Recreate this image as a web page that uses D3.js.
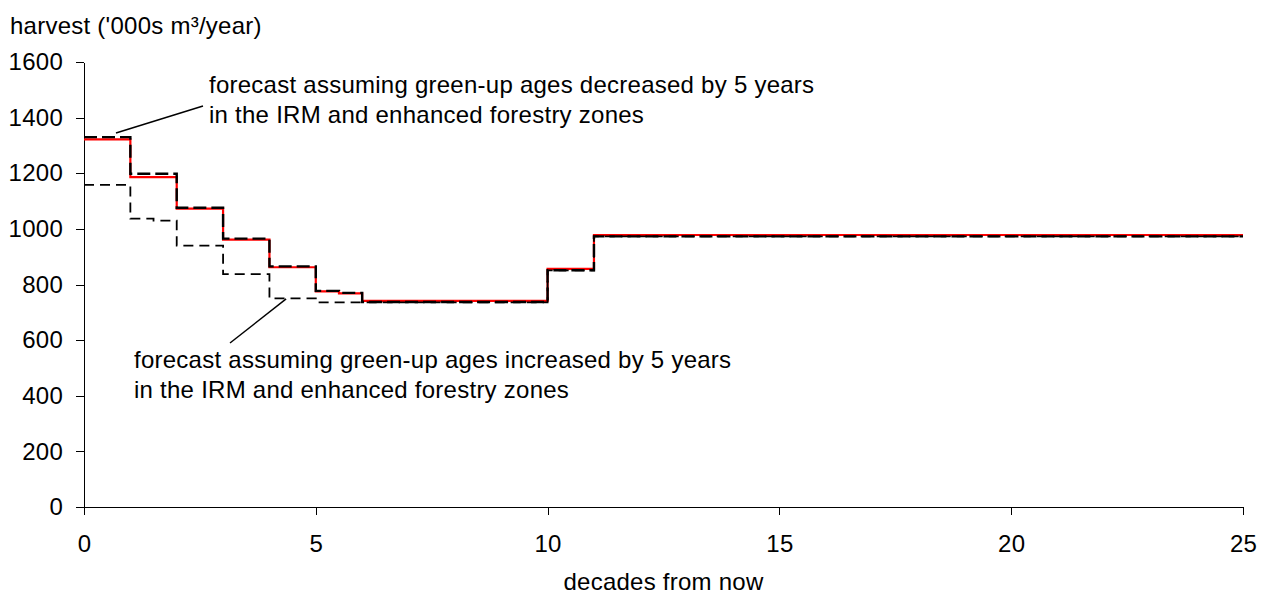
<!DOCTYPE html>
<html>
<head>
<meta charset="utf-8">
<script src="https://cdn.jsdelivr.net/npm/d3@7"></script>
<style>
  html, body { margin: 0; padding: 0; background: #fff; }
  svg { display: block; font-family: "Liberation Sans", Arial, sans-serif; }
</style>
</head>
<body>
<svg id="chart" width="1264" height="596"></svg>
<script>
// Harvest forecast by period (decades from now), stepped per period start
const baseStarts = [0, 1, 2, 3, 4, 5, 5.5, 6, 10, 11];
const baseValues = [1322, 1186, 1073, 961, 862, 775, 768, 741, 856, 978];

const decreasedStarts = [0, 1, 2, 3, 4, 5, 5.5, 6, 10, 11];
const decreasedValues = [1330, 1198, 1076, 965, 865, 777, 770, 737, 851, 973];

const increasedStarts = [0, 1, 1.5, 2, 3, 4, 5, 10, 11];
const increasedValues = [1158, 1037, 1030, 940, 837, 750, 736, 851, 973];

const horizonEnd = 25;

const xTicks = [0, 5, 10, 15, 20, 25];
const yTicks = [0, 200, 400, 600, 800, 1000, 1200, 1400, 1600];

const yTitle = "harvest ('000s m³/year)";
const xTitle = "decades from now";
const noteDecreased = ["forecast assuming green-up ages decreased by 5 years",
                       "in the IRM and enhanced forestry zones"];
const noteIncreased = ["forecast assuming green-up ages increased by 5 years",
                       "in the IRM and enhanced forestry zones"];

const svg = d3.select("#chart");
const fontSize = 24;
const spacing = "0.25px";

const x = d3.scaleLinear().domain([0, 25]).range([84, 1243]);
const y = d3.scaleLinear().domain([0, 1600]).range([507, 62]);

// axes
const yAxis = svg.append("g")
  .attr("transform", `translate(${x(0)},0)`)
  .call(d3.axisLeft(y).tickValues(yTicks).tickFormat(d3.format("d"))
    .tickSize(8).tickSizeOuter(0).tickPadding(13));
const xAxis = svg.append("g")
  .attr("transform", `translate(0,${y(0)})`)
  .call(d3.axisBottom(x).tickValues(xTicks).tickFormat(d3.format("d"))
    .tickSize(8).tickSizeOuter(0).tickPadding(20));

[yAxis, xAxis].forEach(g => {
  g.selectAll("path, line").attr("stroke", "#000").attr("stroke-width", 1).attr("shape-rendering", "crispEdges");
  g.selectAll("text").attr("fill", "#000").style("font-size", fontSize + "px")
    .style("letter-spacing", spacing)
    .style("font-family", '"Liberation Sans", Arial, sans-serif');
});

// step series
const toSteps = (starts, values) => {
  const pts = starts.map((s, i) => [s, values[i]]);
  pts.push([horizonEnd, values[values.length - 1]]);
  return pts;
};
const line = d3.line()
  .x(d => x(d[0]))
  .y(d => y(d[1]))
  .curve(d3.curveStepAfter);

svg.append("path")
  .datum(toSteps(baseStarts, baseValues))
  .attr("d", line)
  .attr("fill", "none")
  .attr("stroke", "#ff0000")
  .attr("stroke-width", 2.2);

svg.append("path")
  .datum(toSteps(decreasedStarts, decreasedValues))
  .attr("d", line)
  .attr("fill", "none")
  .attr("stroke", "#000")
  .attr("stroke-width", 2.4)
  .attr("stroke-dasharray", "13,5");

svg.append("path")
  .datum(toSteps(increasedStarts, increasedValues))
  .attr("d", line)
  .attr("fill", "none")
  .attr("stroke", "#000")
  .attr("stroke-width", 1.8)
  .attr("stroke-dasharray", "10,6");

// titles
svg.append("text")
  .attr("x", 10).attr("y", 34)
  .style("font-size", fontSize + "px")
  .style("letter-spacing", spacing)
  .text(yTitle);

svg.append("text")
  .attr("x", (x(0) + x(25)) / 2).attr("y", 590)
  .attr("text-anchor", "middle")
  .style("font-size", fontSize + "px")
  .style("letter-spacing", spacing)
  .text(xTitle);

// annotations with leader lines
const note = (lines, tx, ty, gap) => {
  const t = svg.append("text").style("font-size", fontSize + "px").style("letter-spacing", spacing);
  lines.forEach((s, i) => {
    t.append("tspan").attr("x", tx).attr("y", ty + i * gap).text(s);
  });
};
note(noteDecreased, 209, 93, 30);
note(noteIncreased, 134, 368, 30);

svg.append("line")
  .attr("x1", x(0.69)).attr("y1", y(1345))
  .attr("x2", 203).attr("y2", 106)
  .attr("stroke", "#000").attr("stroke-width", 1.5);

svg.append("line")
  .attr("x1", x(4.36)).attr("y1", y(748))
  .attr("x2", 230).attr("y2", 343)
  .attr("stroke", "#000").attr("stroke-width", 1.5);
</script>
</body>
</html>
